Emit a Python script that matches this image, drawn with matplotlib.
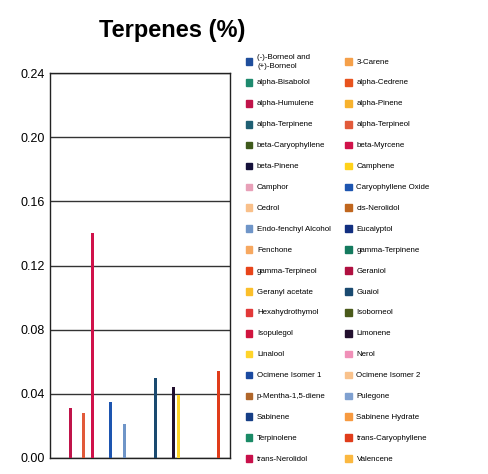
import matplotlib.pyplot as plt
from matplotlib.patches import Rectangle
import numpy as np

plt.rcParams['font.family'] = ['Liberation Sans', 'DejaVu Sans']

# Terpene names (legend order, row by row)
terpenes = ['(-)-Borneol and\n(+)-Borneol', '3-Carene', 'alpha-Bisabolol', 'alpha-Cedrene',
            'alpha-Humulene', 'alpha-Pinene', 'alpha-Terpinene', 'alpha-Terpineol',
            'beta-Caryophyllene', 'beta-Myrcene', 'beta-Pinene', 'Camphene',
            'Camphor', 'Caryophyllene Oxide', 'Cedrol', 'cis-Nerolidol',
            'Endo-fenchyl Alcohol', 'Eucalyptol', 'Fenchone', 'gamma-Terpinene',
            'gamma-Terpineol', 'Geraniol', 'Geranyl acetate', 'Guaiol',
            'Hexahydrothymol', 'Isoborneol', 'Isopulegol', 'Limonene',
            'Linalool', 'Nerol', 'Ocimene Isomer 1', 'Ocimene Isomer 2',
            'p-Mentha-1,5-diene', 'Pulegone', 'Sabinene', 'Sabinene Hydrate',
            'Terpinolene', 'trans-Caryophyllene', 'trans-Nerolidol', 'Valencene']

# Percent values (0 where no bar is visible)
values = [0, 0, 0, 0,
          0.031, 0, 0, 0.028,
          0, 0.140, 0, 0,
          0, 0.035, 0, 0,
          0.021, 0, 0, 0,
          0, 0, 0, 0.050,
          0, 0, 0, 0.0445,
          0.039, 0, 0, 0,
          0, 0, 0, 0,
          0, 0.054, 0, 0]

colors = ['#1f4e9c', '#f5a04a', '#1e8a6e', '#e8531e',
          '#c0144a', '#f7b22e', '#1f5f73', '#e25a3a',
          '#3f5a1c', '#d0124a', '#14103a', '#ffd21a',
          '#e8a0b8', '#1d55b0', '#f9c08a', '#c0661e',
          '#6f95c8', '#122f80', '#f7a860', '#147a5e',
          '#e8441a', '#b01040', '#fbbf2a', '#1a4a70',
          '#e23838', '#4a5a1a', '#d0143e', '#22102e',
          '#ffd42a', '#f090b8', '#1a4aa0', '#f9c28c',
          '#b0662a', '#7fa0d0', '#163e86', '#f79a40',
          '#1a8a66', '#e03c1a', '#c8104a', '#fbb840']

W, H = 488, 474
fig = plt.figure(figsize=(W / 100, H / 100), dpi=100)
ax = fig.add_axes([50 / W, 1 - 458 / H, 180 / W, 385 / H])

x = np.arange(len(terpenes))
ax.bar(x, values, color=colors, width=0.65, zorder=3)

ax.set_xlim(-0.5, len(terpenes) - 0.5)
ax.set_ylim(0, 0.24)
yt = np.arange(0, 0.241, 0.04)
ax.set_yticks(yt)
ax.set_yticklabels([f'{v:.2f}' for v in yt])
ax.set_xticks([])
ax.tick_params(axis='y', length=0, pad=4, labelsize=9)
ax.grid(axis='y', color='#333333', linewidth=1, zorder=0)
for s in ax.spines.values():
    s.set_color('#222222')
    s.set_linewidth(1)

fig.text(172 / W, 1 - 30 / H, 'Terpenes (%)', ha='center', va='center',
         fontsize=17, fontweight='bold')

# legend, two columns filled row by row
col_x = [249, 348.5]
for i, (name, c) in enumerate(zip(terpenes, colors)):
    row, col = divmod(i, 2)
    yc = 61.5 + row * 20.9
    fig.patches.append(Rectangle(((col_x[col] - 3.3) / W, 1 - (yc + 3.3) / H),
                                 6.6 / W, 6.6 / H, color=c,
                                 transform=fig.transFigure, figure=fig))
    fig.text((col_x[col] + 8) / W, 1 - (yc + 0.6) / H, name, ha='left', va='center',
             fontsize=5.7, linespacing=1.3)

fig.savefig('out.png', dpi=100)
